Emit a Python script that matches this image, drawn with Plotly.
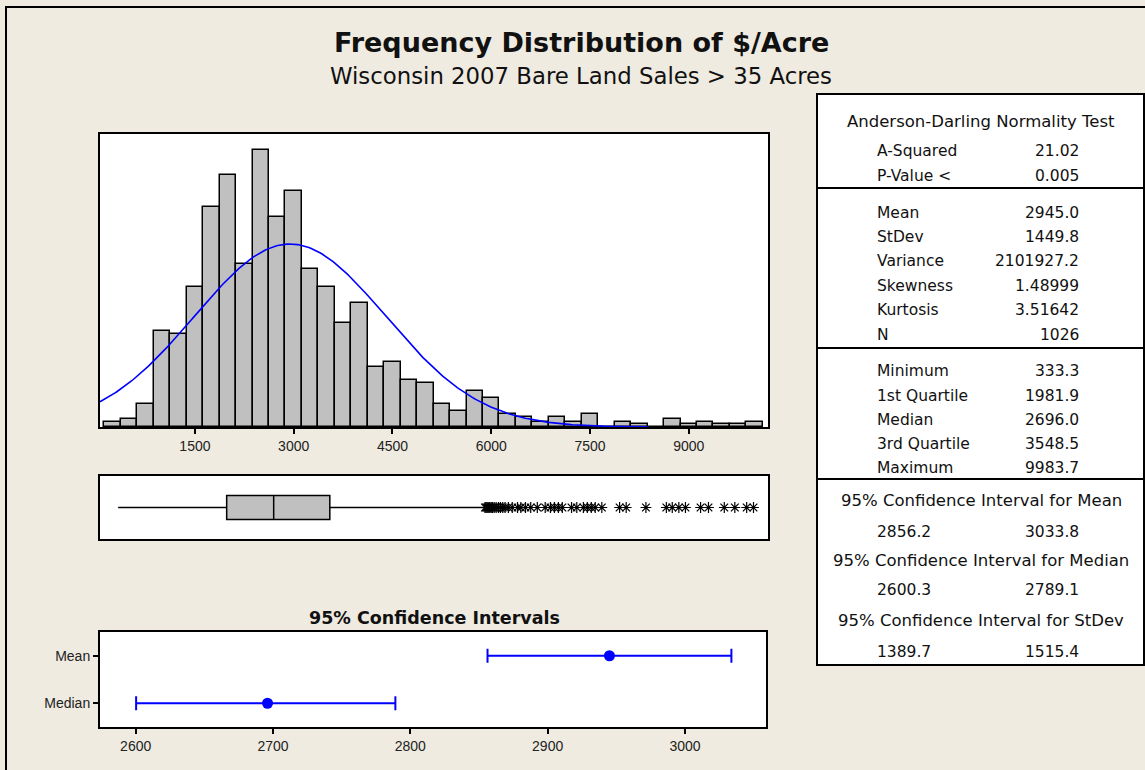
import numpy as np
import plotly.graph_objects as go

# ---------------- data ----------------
BIN_CENTERS = [250, 500, 750, 1000, 1250, 1500, 1750, 2000, 2250, 2500, 2750, 3000,
               3250, 3500, 3750, 4000, 4250, 4500, 4750, 5000, 5250, 5500, 5750, 6000,
               6250, 6500, 6750, 7000, 7250, 7500, 7750, 8000, 8250, 8500, 8750, 9000,
               9250, 9500, 9750, 10000]
BIN_COUNTS = [2, 3, 9, 37, 36, 54, 85, 97, 63, 107, 81, 91,
              61, 54, 40, 48, 23, 25, 18, 17, 9, 6, 14, 11,
              5, 4, 2, 4, 2, 5, 0, 2, 1, 0, 3, 1,
              2, 1, 1, 2]
BIN_WIDTH = 250

MEAN = 2945.0
STDEV = 1449.8
N_OBS = 1026
MINIMUM = 333.3
Q1 = 1981.9
MEDIAN = 2696.0
Q3 = 3548.5
MAXIMUM = 9983.7
UPPER_WHISKER = 5895

OUTLIERS = [5905, 5920, 5935, 5950, 5965, 5980, 6000, 6020, 6045, 6075, 6110,
            6140, 6175, 6210, 6260, 6320, 6400, 6450, 6520, 6600, 6700, 6820,
            6900, 6960, 7020, 7080, 7220, 7300, 7400, 7460, 7520, 7580, 7680,
            7950, 8050, 8350, 8660, 8750, 8850, 8950, 9180, 9300, 9540, 9700,
            9880, 9983.7]

CI_NAMES = ["Median", "Mean"]
CI_EST = [2696.0, 2945.0]
CI_LOW = [2600.3, 2856.2]
CI_HIGH = [2789.1, 3033.8]

HIST_TICKS = [1500, 3000, 4500, 6000, 7500, 9000]
CI_TICKS = [2600, 2700, 2800, 2900, 3000]

TITLE = "Frequency Distribution of $/Acre"
SUBTITLE = "Wisconsin 2007 Bare Land Sales > 35 Acres"
CI_TITLE = "95% Confidence Intervals"

AD_HEADER = "Anderson-Darling Normality Test"
AD_LABELS = ["A-Squared", "P-Value <"]
AD_VALUES = ["21.02", "0.005"]
DESC_LABELS = ["Mean", "StDev", "Variance", "Skewness", "Kurtosis", "N"]
DESC_VALUES = ["2945.0", "1449.8", "2101927.2", "1.48999", "3.51642", "1026"]
QUANT_LABELS = ["Minimum", "1st Quartile", "Median", "3rd Quartile", "Maximum"]
QUANT_VALUES = ["333.3", "1981.9", "2696.0", "3548.5", "9983.7"]
CI_HEADERS = ["95% Confidence Interval for Mean",
              "95% Confidence Interval for Median",
              "95% Confidence Interval for StDev"]
CI_PAIRS = [("2856.2", "3033.8"), ("2600.3", "2789.1"), ("1389.7", "1515.4")]

# ---------------- layout helpers ----------------
W, H = 1145, 770
def px(x):
    return x / W
def py(y):
    return 1 - y / H

BG = "#EFEBE1"
BLUE = "#0000FF"
FONT = "Liberation Sans, Arial, sans-serif"
WIDE = "DejaVu Sans, Verdana, sans-serif"

fig = go.Figure()

# histogram
fig.add_trace(go.Bar(x=BIN_CENTERS, y=BIN_COUNTS, width=BIN_WIDTH,
                     marker=dict(color="#C0C0C0", line=dict(color="black", width=1.5)),
                     xaxis="x", yaxis="y", showlegend=False, hoverinfo="x+y"))

# fitted normal curve (from the mean / stdev in the table)
XMIN, XMAX = 58, 10204
xs = np.linspace(XMIN, 8380, 300)
ys = N_OBS * BIN_WIDTH / (STDEV * np.sqrt(2 * np.pi)) * np.exp(-0.5 * ((xs - MEAN) / STDEV) ** 2)
fig.add_trace(go.Scatter(x=xs, y=ys, mode="lines", line=dict(color=BLUE, width=1.6),
                         xaxis="x", yaxis="y", showlegend=False, hoverinfo="skip"))

# box plot
fig.add_trace(go.Box(q1=[Q1], median=[MEDIAN], q3=[Q3], lowerfence=[MINIMUM],
                     upperfence=[UPPER_WHISKER], y=[0], orientation="h",
                     fillcolor="#C0C0C0", line=dict(color="black", width=1.5),
                     whiskerwidth=0, width=0.76, boxpoints=False,
                     xaxis="x2", yaxis="y2", showlegend=False))
fig.add_trace(go.Scatter(x=OUTLIERS, y=[0] * len(OUTLIERS), mode="markers",
                         marker=dict(symbol="asterisk-open", size=9, color="black",
                                     line=dict(color="black", width=1.2)),
                         xaxis="x2", yaxis="y2", showlegend=False))

# confidence intervals
fig.add_trace(go.Scatter(x=CI_EST, y=[0, 1], mode="markers",
                         marker=dict(color=BLUE, size=11),
                         error_x=dict(type="data", symmetric=False,
                                      array=[h - e for h, e in zip(CI_HIGH, CI_EST)],
                                      arrayminus=[e - l for e, l in zip(CI_EST, CI_LOW)],
                                      color=BLUE, thickness=2, width=7),
                         xaxis="x3", yaxis="y3", showlegend=False))

frame = dict(showline=True, mirror=True, linecolor="black", linewidth=2,
             showgrid=False, zeroline=False)
tickfont = dict(family=FONT, size=14, color="#222222")

fig.update_layout(
    width=W, height=H, margin=dict(l=0, r=0, t=0, b=0),
    paper_bgcolor=BG, plot_bgcolor="white", bargap=0,
    xaxis=dict(domain=[px(100), px(768)], range=[XMIN, XMAX], anchor="y",
               tickvals=HIST_TICKS, ticks="outside", ticklen=5, tickwidth=1.5,
               tickcolor="black", tickfont=tickfont, **frame),
    yaxis=dict(domain=[py(427), py(134)], range=[0, 113], anchor="x",
               showticklabels=False, ticks="", **frame),
    xaxis2=dict(domain=[px(100), px(768)], range=[XMIN, XMAX], anchor="y2",
                showticklabels=False, ticks="", **frame),
    yaxis2=dict(domain=[py(539), py(476)], range=[-1, 1], anchor="x2",
                showticklabels=False, ticks="", **frame),
    xaxis3=dict(domain=[px(100), px(766)], range=[2574, 3059], anchor="y3",
                tickvals=CI_TICKS, ticks="outside", ticklen=5, tickwidth=1.5,
                tickcolor="black", tickfont=tickfont, **frame),
    yaxis3=dict(domain=[py(727), py(632)], range=[-0.5, 1.5], anchor="x3",
                tickvals=[0, 1], ticktext=CI_NAMES, ticks="outside", ticklen=5,
                tickwidth=1.5, tickcolor="black",
                tickfont=dict(family=FONT, size=14, color="#222222"), **frame),
    showlegend=False,
)

shapes = []
# outer frame
shapes.append(dict(type="rect", xref="paper", yref="paper", x0=px(6), x1=px(1160),
                   y0=py(790), y1=py(7), line=dict(color="black", width=2),
                   fillcolor="rgba(0,0,0,0)", layer="below"))
# statistics table
shapes.append(dict(type="rect", xref="paper", yref="paper", x0=px(817), x1=px(1144),
                   y0=py(665), y1=py(94), line=dict(color="black", width=2),
                   fillcolor="white", layer="below"))
for yl in [188, 348, 479]:
    shapes.append(dict(type="line", xref="paper", yref="paper", x0=px(817), x1=px(1144),
                       y0=py(yl), y1=py(yl), line=dict(color="black", width=2)))
fig.update_layout(shapes=shapes)

ann = []
def text(x, y, s, size=15.5, anchor="center", bold=False, color="#111111", family=WIDE):
    ann.append(dict(x=px(x), y=py(y), xref="paper", yref="paper",
                    text=("<b>%s</b>" % s) if bold else s,
                    showarrow=False, xanchor=anchor, yanchor="middle",
                    font=dict(family=family, size=size, color=color)))

text(581, 43, TITLE, size=27, bold=True)
text(581, 76, SUBTITLE, size=22.8)
text(434, 618, CI_TITLE, size=17.5, bold=True)

LX, VX, CX = 875, 1081, 981
text(CX, 122, AD_HEADER, size=16.5)
rows_y = [151, 176]
for lab, val, yy in zip(AD_LABELS, AD_VALUES, rows_y):
    text(LX, yy, lab, anchor="left")
    text(VX, yy, val, anchor="right")
rows_y = [213, 237, 261, 286, 310, 335]
for lab, val, yy in zip(DESC_LABELS, DESC_VALUES, rows_y):
    text(LX, yy, lab, anchor="left")
    text(VX, yy, val, anchor="right")
rows_y = [371, 396, 420, 444, 468]
for lab, val, yy in zip(QUANT_LABELS, QUANT_VALUES, rows_y):
    text(LX, yy, lab, anchor="left")
    text(VX, yy, val, anchor="right")
for hdr, (lo, hi), yh, yv in zip(CI_HEADERS, CI_PAIRS, [500, 560, 620], [532, 590, 652]):
    text(CX, yh, hdr, size=16.5)
    text(LX, yv, lo, anchor="left")
    text(VX, yv, hi, anchor="right")

fig.update_layout(annotations=ann)
fig.write_html("out.html", config={"displayModeBar": False},
               post_script="document.body.style.margin='0px';")
